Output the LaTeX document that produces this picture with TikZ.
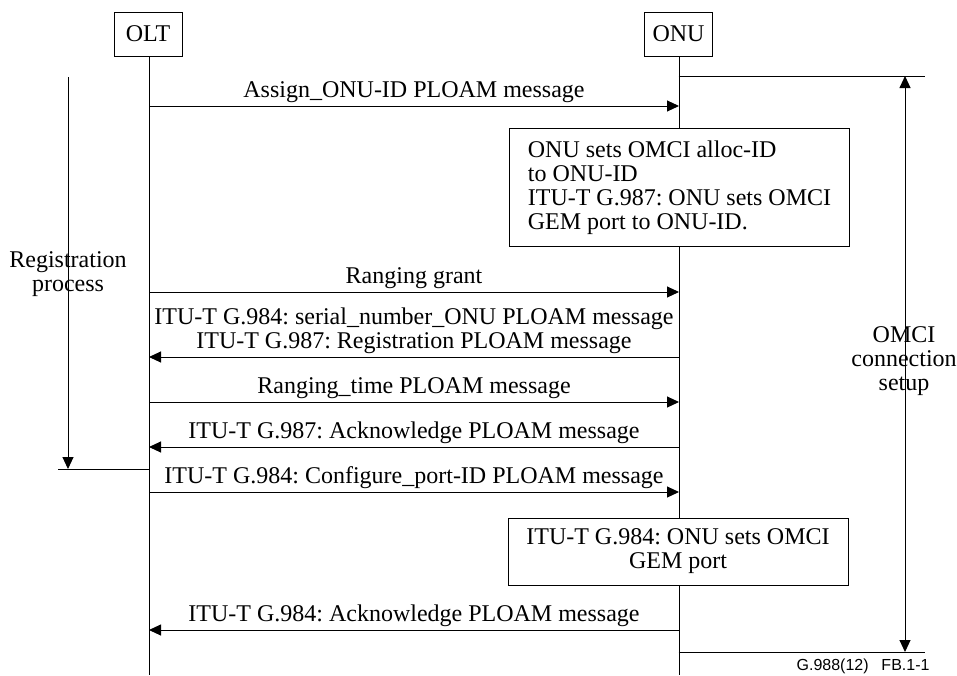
\documentclass[tikz,border=0pt]{standalone}
\usepackage{fontspec}
\setmainfont{Liberation Serif}
\newfontfamily\tagfont{Liberation Sans}
\usetikzlibrary{arrows.meta}
\frenchspacing

\begin{document}
\begin{tikzpicture}[x=0.5pt,y=-0.5pt,line width=0.5pt,
  every node/.style={font=\fontsize{12}{12}\selectfont},
  tip/.style={-{Triangle[length=6pt,width=5.5pt]}},
  entity/.style={draw,fill=white,minimum width=34pt,minimum height=22pt,inner sep=0pt},
  action/.style={draw,fill=white,minimum width=170pt,inner sep=0pt},
  msglabel/.style={midway,anchor=base,yshift=4.5pt,align=center,inner sep=0pt}]
\useasboundingbox (0,0) rectangle (957,675);

\node[entity] (olt) at (148,34) {OLT};
\node[entity] (onu) at (678.5,34) {ONU};
\coordinate (oltend) at (149,675);
\coordinate (onuend) at (679,675);

% lifelines
\draw (olt.south -| oltend) -- (oltend);
\draw (onu.south -| onuend) -- (onuend);

% message end points
\foreach \n/\y in {1/106,2/292,3/357,4/402,5/447,6/492,7/630}{
  \coordinate (olt\n) at (149,\y);
  \coordinate (onu\n) at (679,\y);
}

\draw[tip] (olt1) -- (onu1) node[msglabel] {Assign\_ONU-ID PLOAM message};
\draw[tip] (olt2) -- (onu2) node[msglabel] {Ranging grant};
\draw[tip] (onu3) -- (olt3) node[msglabel] {ITU-T G.984: serial\_number\_ONU PLOAM message\\ITU-T G.987: Registration PLOAM message};
\draw[tip] (olt4) -- (onu4) node[msglabel] {Ranging\_time PLOAM message};
\draw[tip] (onu5) -- (olt5) node[msglabel] {ITU-T G.987: Acknowledge PLOAM message};
\draw[tip] (olt6) -- (onu6) node[msglabel] {ITU-T G.984: Configure\_port-ID PLOAM message};
\draw[tip] (onu7) -- (olt7) node[msglabel] {ITU-T G.984: Acknowledge PLOAM message};

% ONU actions
\node[action,minimum height=59pt,align=left] (setid) at (679.5,187.5)
  {ONU sets OMCI alloc-ID\\to ONU-ID\\ITU-T G.987: ONU sets OMCI\\GEM port to ONU-ID.};
\node[action,minimum height=33.5pt,align=center] (setport) at (678,551.5)
  {ITU-T G.984: ONU sets OMCI\\GEM port};

% registration process
\coordinate (regtop) at (68,77);
\coordinate (regbot) at (68,469);
\coordinate (regleft) at (58,469);
\coordinate (regolt) at (149,469);
\draw[tip] (regtop) -- (regbot);
\draw (regleft) -- (regolt);
\node[align=center] (regtxt) at (68,274) {Registration\\process};

% OMCI connection setup
\coordinate (omcitop) at (905,76);
\coordinate (omcibot) at (905,652);
\draw (onu.south |- omcitop) -- (925,76);
\draw (onu.south |- omcibot) -- (925,652);
\draw[{Triangle[length=6pt,width=5.5pt]}-{Triangle[length=6pt,width=5.5pt]}] (omcitop) -- (omcibot);
\node[align=center] (omcitxt) at (904,361) {OMCI\\connection\\setup};

\node[anchor=base east,font=\tagfont\fontsize{8}{8}\selectfont,inner sep=0pt] (figtag) at (930,670) {G.988(12)\hspace{0.8em}FB.1-1};
\end{tikzpicture}
\end{document}
